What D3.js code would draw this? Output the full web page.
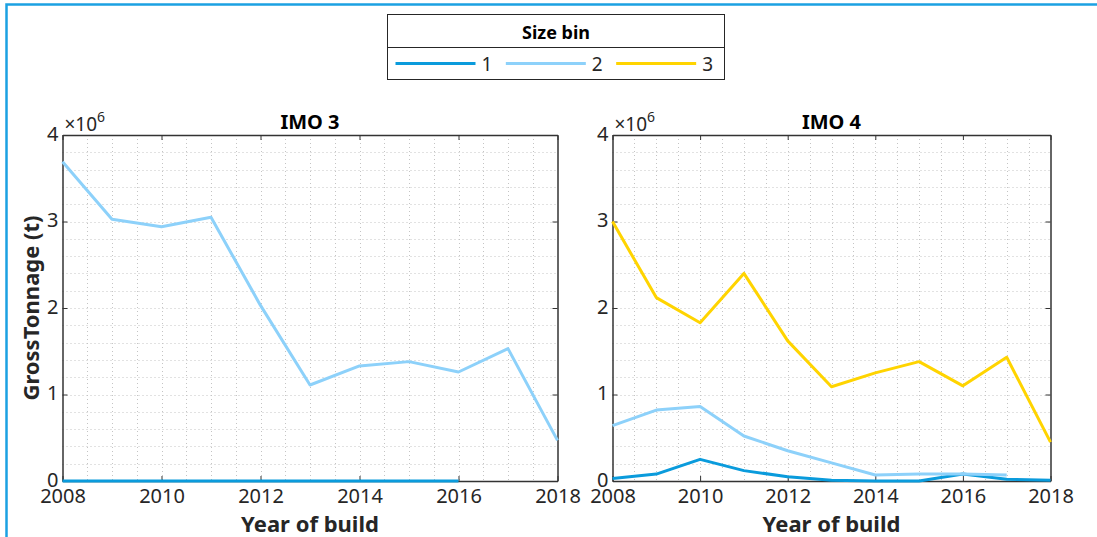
<!DOCTYPE html>
<html><head><meta charset="utf-8">
<script src="https://cdn.jsdelivr.net/npm/d3@7"></script>
<style>
html,body{margin:0;padding:0;background:#fff;}
svg{display:block;font-family:"Noto Sans","Open Sans",sans-serif;}
</style></head>
<body>
<script>
const years = [2008,2009,2010,2011,2012,2013,2014,2015,2016,2017,2018];
const xTicks = [2008,2010,2012,2014,2016,2018];
const yTicks = [0,1,2,3,4];
const sizeBins = ["1","2","3"];
const binColors = ["#0A9BDC","#8DD1FA","#FFD400"];
const panelTitles = ["IMO 3","IMO 4"];
// values in units of 1e6 t
const imo3_bin1 = [0,0,0,0,0,0,0,0,0,null,null];
const imo3_bin2 = [3.69,3.025,2.94,3.05,2.03,1.11,1.33,1.38,1.26,1.53,0.47];
const imo3_bin3 = [null,null,null,null,null,null,null,null,null,null,null];
const imo4_bin1 = [0.03,0.08,0.25,0.12,0.05,0.01,0.0,0.0,0.08,0.02,0.01];
const imo4_bin2 = [0.64,0.82,0.86,0.52,0.35,0.21,0.07,0.08,0.08,0.07,null];
const imo4_bin3 = [3.0,2.12,1.83,2.40,1.62,1.09,1.25,1.38,1.10,1.43,0.45];

const panels = [
  {title: panelTitles[0], series:[imo3_bin1,imo3_bin2,imo3_bin3], x0:62.5, x1:557.5},
  {title: panelTitles[1], series:[imo4_bin1,imo4_bin2,imo4_bin3], x0:612.5, x1:1050.5}
];
const W=1097,H=537, yTop=135, yBot=481;

const svg = d3.select("body").append("svg").attr("width",W).attr("height",H);
// outer frame
svg.append("rect").attr("x",6.5).attr("y",4.5).attr("width",W+10).attr("height",H+10)
  .attr("fill","none").attr("stroke","#1BA1E2").attr("stroke-width",2.5);

const y = d3.scaleLinear().domain([0,4]).range([yBot,yTop]);

panels.forEach(p=>{
  const x = d3.scaleLinear().domain([2008,2018]).range([p.x0,p.x1]);
  const g = svg.append("g");
  // grid
  const gx = d3.range(2008,2018.001,0.5).filter(v=>v>2008 && v<2018);
  const gy = d3.range(0,4.001,0.2).filter(v=>v>0.001 && v<3.999);
  g.selectAll(".vg").data(gx).join("line")
    .attr("x1",d=>Math.round(x(d))+0.5).attr("x2",d=>Math.round(x(d))+0.5)
    .attr("y1",yTop).attr("y2",yBot)
    .attr("stroke","#c4c4c4").attr("stroke-width",1).attr("stroke-dasharray","1,3");
  g.selectAll(".hg").data(gy).join("line")
    .attr("y1",d=>Math.round(y(d))+0.5).attr("y2",d=>Math.round(y(d))+0.5)
    .attr("x1",p.x0).attr("x2",p.x1)
    .attr("stroke","#c4c4c4").attr("stroke-width",1).attr("stroke-dasharray","1,3");
  // axes
  const ax = g.append("g").attr("transform",`translate(0,${yBot})`)
    .call(d3.axisBottom(x).tickValues(xTicks).tickFormat(d3.format("d")).tickSizeInner(-5).tickSizeOuter(0).tickPadding(10));
  const axT = g.append("g").attr("transform",`translate(0,${yTop})`)
    .call(d3.axisTop(x).tickValues(xTicks).tickFormat("").tickSizeInner(-5).tickSizeOuter(0));
  const ay = g.append("g").attr("transform",`translate(${p.x0},0)`)
    .call(d3.axisLeft(y).tickValues(yTicks).tickFormat(d3.format("d")).tickSizeInner(-5).tickSizeOuter(0).tickPadding(4));
  const ayR = g.append("g").attr("transform",`translate(${p.x1},0)`)
    .call(d3.axisRight(y).tickValues(yTicks).tickFormat("").tickSizeInner(-5).tickSizeOuter(0));
  [ax,axT,ay,ayR].forEach(a=>{
    a.selectAll(".domain").attr("stroke","#333").attr("stroke-width",1.5);
    a.selectAll(".tick line").attr("stroke","#333").attr("stroke-width",1);
    a.selectAll("text").attr("fill","#262626").attr("font-size",20).attr("font-family","Noto Sans");
  });
  ax.selectAll("text").attr("dy","0.6em");
  ay.selectAll("text").attr("dy","0.25em");
  // lines (drawn over axes)
  p.series.forEach((s,i)=>{
    const line = d3.line().defined(d=>d!=null).x((d,j)=>x(years[j])).y(d=>y(d));
    g.append("path").datum(s).attr("d",line).attr("fill","none")
      .attr("stroke",binColors[i]).attr("stroke-width",3).attr("stroke-linejoin","round");
  });
  // exponent
  const ex = g.append("text").attr("x",p.x0+2).attr("y",yTop-4).attr("fill","#262626")
    .attr("font-size",19);
  ex.append("tspan").text("\u00d710");
  ex.append("tspan").attr("dy",-9).attr("font-size",14).text("6");
  // title
  g.append("text").attr("x",(p.x0+p.x1)/2).attr("y",yTop-6).attr("text-anchor","middle")
    .attr("font-weight","bold").attr("font-size",20).attr("fill","#000").text(p.title);
  // x label
  g.append("text").attr("x",(p.x0+p.x1)/2).attr("y",532).attr("text-anchor","middle")
    .attr("font-weight","bold").attr("font-size",22).attr("fill","#262626").text("Year of build");
});
// y label
svg.append("text").attr("transform",`translate(39,${(yTop+yBot)/2}) rotate(-90)`)
  .attr("text-anchor","middle").attr("font-weight","bold").attr("font-size",22)
  .attr("fill","#262626").text("GrossTonnage (t)");

// legend
const lg = svg.append("g");
lg.append("rect").attr("x",387.5).attr("y",14.5).attr("width",337).attr("height",65)
  .attr("fill","#fff").attr("stroke","#262626").attr("stroke-width",1);
lg.append("line").attr("x1",387.5).attr("x2",724.5).attr("y1",47.5).attr("y2",47.5)
  .attr("stroke","#262626").attr("stroke-width",1);
lg.append("text").attr("x",556).attr("y",39).attr("text-anchor","middle")
  .attr("font-weight","bold").attr("font-size",18).attr("fill","#000").text("Size bin");
const lx = d3.scaleBand().domain(sizeBins).range([395.5,726.5]);
sizeBins.forEach((b,i)=>{
  const x0 = lx(b);
  lg.append("line").attr("x1",x0).attr("x2",x0+80).attr("y1",63.5).attr("y2",63.5)
    .attr("stroke",binColors[i]).attr("stroke-width",3);
  lg.append("text").attr("x",x0+86).attr("y",70.5).attr("font-size",19).attr("fill","#262626").text(b);
});
</script>
</body></html>
